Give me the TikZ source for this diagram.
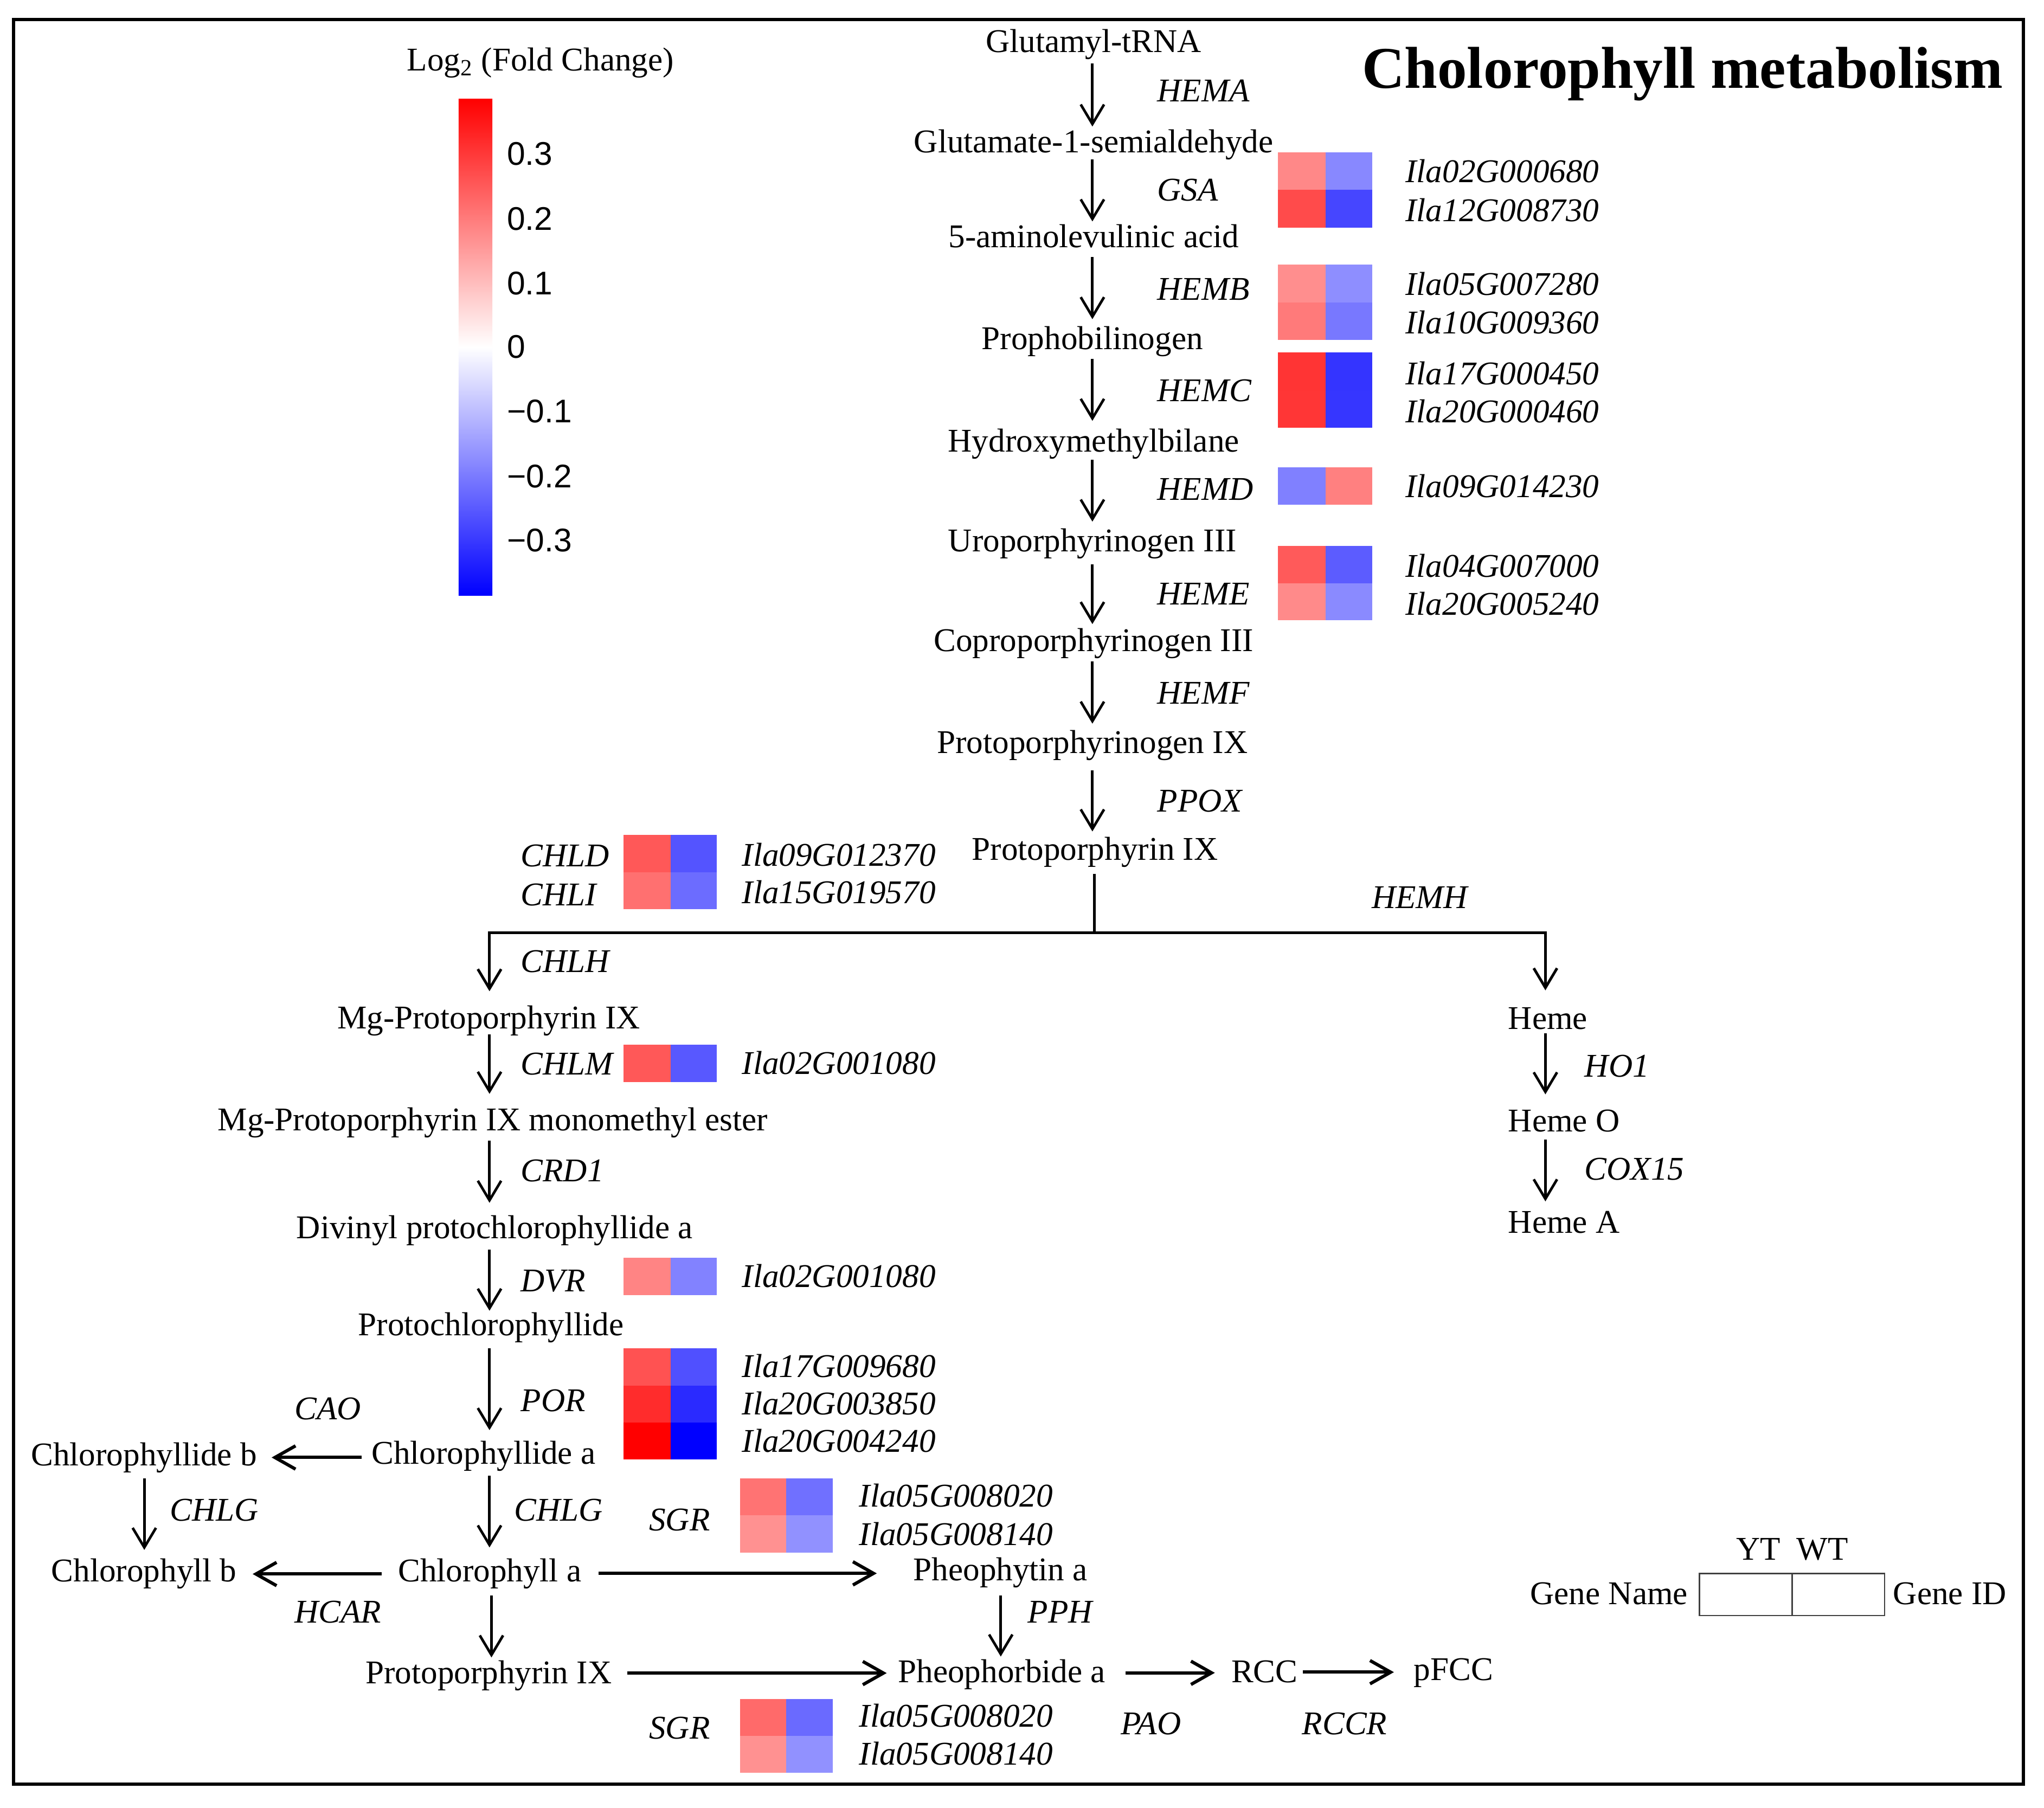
\documentclass[tikz,border=0pt]{standalone}
\usepackage{fontspec}
\setmainfont{Liberation Serif}
\setsansfont{Liberation Sans}
\usetikzlibrary{arrows.meta,calc}
\newcommand{\fsz}{\fontsize{17.4pt}{20pt}\selectfont}
% red cell left, blue cell right
\newcommand{\hmrow}[7]{%
  \fill[fill={rgb,255:red,255;green,#6;blue,#6}] (#1,#4) rectangle (#2,#5);
  \fill[fill={rgb,255:red,#7;green,#7;blue,255}] (#2,#4) rectangle (#3,#5);}
\newcommand{\vconn}[5]{\draw[varr] ($(#1.south -| #3)+(0,#4)$) -- ($(#2.north -| #3)+(0,#5)$);}
\begin{document}
\begin{tikzpicture}[x=0.02404cm,y=-0.02404cm,
  met/.style={inner sep=0pt,text height=12pt,text depth=4pt,font=\fsz,anchor=base},
  enz/.style={inner sep=0pt,font=\fsz\itshape,anchor=base west},
  lbl/.style={inner sep=0pt,font=\fsz,anchor=base west},
  cbl/.style={inner sep=0pt,font=\fontsize{17.2pt}{20pt}\sffamily,anchor=base west},
  varr/.style={line width=1.35pt,-{Straight Barb[length=3.6mm,width=4.3mm]}},
  harr/.style={line width=1.7pt,-{Straight Barb[length=3.8mm,width=4.3mm]}}]
\fill[white] (0,0) rectangle (1568,1387);
\useasboundingbox (0,0) rectangle (1568,1387);
\draw[line width=1.8pt] (10.5,14.9) rectangle (1552.3,1368.7);

% column coordinates
\coordinate (cM) at (838,0);
\coordinate (cL) at (375.5,0);
\coordinate (cL2) at (377,0);
\coordinate (cB) at (110.7,0);
\coordinate (cP) at (767.7,0);
\coordinate (cR) at (1185.5,0);

% title and colour bar
\node[inner sep=0pt,anchor=base west,font=\fontsize{31pt}{36pt}\selectfont\bfseries] (title) at (1044.5,67.6) {Cholorophyll metabolism};
\node[lbl] (logt) at (312,54.3) {Log\textsubscript{2} (Fold Change)};
\shade[top color=red,bottom color=white] (351.8,75.7) rectangle (377.7,266.4);
\shade[top color=white,bottom color=blue] (351.8,266.2) rectangle (377.7,456.8);
\node[cbl] (cb1) at (388.7,126.7) {0.3};
\node[cbl] (cb2) at (388.7,176.4) {0.2};
\node[cbl] (cb3) at (388.7,225.9) {0.1};
\node[cbl] (cb4) at (388.7,274.7) {0};
\node[cbl] (cb5) at (388.7,324.4) {−0.1};
\node[cbl] (cb6) at (388.7,373.9) {−0.2};
\node[cbl] (cb7) at (388.7,423.3) {−0.3};

% main column
\node[met] (trna) at (839,40) {Glutamyl-tRNA};
\node[met] (glu) at (839,117) {Glutamate-1-semialdehyde};
\node[met] (ala) at (839,190) {5-aminolevulinic acid};
\node[met] (prop) at (838,268) {Prophobilinogen};
\node[met] (hyd) at (839,346.5) {Hydroxymethylbilane};
\node[met] (uro) at (838,423) {Uroporphyrinogen III};
\node[met] (copro) at (839,499.6) {Coproporphyrinogen III};
\node[met] (protogen) at (838,578) {Protoporphyrinogen IX};
\node[met] (proto) at (840,659.7) {Protoporphyrin IX};

\vconn{trna}{glu}{cM}{2.4}{-2.1}
\vconn{glu}{ala}{cM}{-1}{-2.3}
\vconn{ala}{prop}{cM}{1}{-5.3}
\vconn{prop}{hyd}{cM}{1}{-5.8}
\vconn{hyd}{uro}{cM}{0}{-5}
\vconn{uro}{copro}{cM}{4}{-3}
\vconn{copro}{protogen}{cM}{1.5}{-5}
\vconn{protogen}{proto}{cM}{7}{-4}

\node[enz] (eHEMA) at (887.6,78) {HEMA};
\node[enz] (eGSA) at (887.6,154) {GSA};
\node[enz] (eHEMB) at (887.6,230) {HEMB};
\node[enz] (eHEMC) at (887.6,308) {HEMC};
\node[enz] (eHEMD) at (887.6,383.6) {HEMD};
\node[enz] (eHEME) at (887.6,464) {HEME};
\node[enz] (eHEMF) at (887.6,540) {HEMF};
\node[enz] (ePPOX) at (887.6,623) {PPOX};
\node[enz] (eHEMH) at (1052,697) {HEMH};

% main heat maps
\hmrow{980.5}{1016.7}{1052.5}{117}{145.6}{136}{136}
\hmrow{980.5}{1016.7}{1052.5}{145.6}{174.5}{75}{70}
\hmrow{980.5}{1016.7}{1052.5}{203}{232}{142}{142}
\hmrow{980.5}{1016.7}{1052.5}{232}{260.8}{122}{120}
\hmrow{980.5}{1016.7}{1052.5}{270.4}{299.4}{52}{52}
\hmrow{980.5}{1016.7}{1052.5}{299.3}{328.3}{54}{54}
\fill[fill={rgb,255:red,128;green,128;blue,255}] (980.5,358.4) rectangle (1016.7,387);
\fill[fill={rgb,255:red,255;green,128;blue,128}] (1016.7,358.4) rectangle (1052.5,387);
\hmrow{980.5}{1016.7}{1052.5}{419}{447.7}{90}{92}
\hmrow{980.5}{1016.7}{1052.5}{447.6}{476}{138}{138}

\node[enz] (g1) at (1078,140) {Ila02G000680};
\node[enz] (g2) at (1078,169.7) {Ila12G008730};
\node[enz] (g3) at (1078,226.5) {Ila05G007280};
\node[enz] (g4) at (1078,256) {Ila10G009360};
\node[enz] (g5) at (1078,295) {Ila17G000450};
\node[enz] (g6) at (1078,324) {Ila20G000460};
\node[enz] (g7) at (1078,381.4) {Ila09G014230};
\node[enz] (g8) at (1078,442.6) {Ila04G007000};
\node[enz] (g9) at (1078,471.7) {Ila20G005240};

% branch
\coordinate (brC) at (839.4,715.7);
\coordinate (brL) at (375.5,715.7);
\coordinate (brR) at (1185.5,715.7);
\draw[line width=1.4pt] ($(proto.south -| brC)+(0,4.4)$) -- (brC);

% left column
\node[met] (mgp) at (375,789.3) {Mg-Protoporphyrin IX};
\node[met] (mgpme) at (378,867.3) {Mg-Protoporphyrin IX monomethyl ester};
\node[met] (div) at (379.4,950.1) {Divinyl protochlorophyllide a};
\node[met] (pchl) at (376.6,1024.4) {Protochlorophyllide};
\node[met] (chlidea) at (371,1123) {Chlorophyllide a};
\node[met] (chlideb) at (110.5,1124.5) {Chlorophyllide b};
\node[met] (chlb) at (110.5,1213.4) {Chlorophyll b};
\node[met] (chla) at (375.7,1213.4) {Chlorophyll a};
\node[met] (proto2) at (374.9,1291.4) {Protoporphyrin IX};
\node[met] (pheophytin) at (767.5,1212.7) {Pheophytin a};
\node[met] (pheophorbide) at (768.5,1290.7) {Pheophorbide a};
\node[met] (rcc) at (970,1290.7) {RCC};
\node[met,anchor=base west] (pfcc) at (1084.3,1289) {pFCC};

% right column
\node[met,anchor=base west] (heme) at (1156.7,789.6) {Heme};
\node[met,anchor=base west] (hemeo) at (1156.7,868) {Heme O};
\node[met,anchor=base west] (hemea) at (1156.7,946) {Heme A};

\draw[varr,line width=1.4pt] (brC) -- (brL) -- ($(mgp.north -| brL)+(0,-11)$);
\draw[varr,line width=1.4pt] (brC) -- (brR) -- ($(heme.north -| brR)+(0,-12)$);

\vconn{mgp}{mgpme}{cL}{-2}{-10.3}
\vconn{mgpme}{div}{cL}{1.5}{-9.5}
\vconn{div}{pchl}{cL}{2.3}{-1}
\vconn{pchl}{chlidea}{cL}{4}{-8}
\vconn{chlidea}{chla}{cL}{3}{-8.4}
\vconn{chla}{proto2}{cL2}{4.5}{-2}
\vconn{chlideb}{chlb}{cB}{3.7}{-6.5}
\vconn{pheophytin}{pheophorbide}{cP}{5}{-2}
\vconn{heme}{hemeo}{cR}{-3}{-10.6}
\vconn{hemeo}{hemea}{cR}{0}{-6.5}

\draw[harr] ($(chlidea.west)+(-7.4,1)$) -- ($(chlideb.east |- chlidea.west)+(11,1)$);
\draw[harr] ($(chla.west)+(-12.3,0)$) -- ($(chlb.east |- chla.west)+(12,0)$);
\draw[harr] ($(chla.east)+(13,-0.5)$) -- ($(pheophytin.west |- chla.east)+(-27.8,-0.5)$);
\draw[harr] ($(proto2.east)+(11.5,-2)$) -- ($(pheophorbide.west |- proto2.east)+(-8.5,-2)$);
\draw[harr] ($(pheophorbide.east)+(15,-1.5)$) -- ($(rcc.west |- pheophorbide.east)+(-12.3,-1.5)$);
\draw[harr] ($(rcc.east)+(3.7,-2)$) -- ($(pfcc.west |- rcc.east)+(-15,-2)$);

% left enzyme labels
\node[enz] (eCHLD) at (399.3,664.8) {CHLD};
\node[enz] (eCHLI) at (399.3,694.6) {CHLI};
\node[enz] (eCHLH) at (399.3,745.8) {CHLH};
\node[enz] (eCHLM) at (399.3,824.6) {CHLM};
\node[enz] (eCRD1) at (399.3,906.3) {CRD1};
\node[enz] (eDVR) at (399.3,991) {DVR};
\node[enz] (ePOR) at (399.3,1082.7) {POR};
\node[enz] (eCAO) at (225.8,1089) {CAO};
\node[enz] (eCHLGb) at (130,1167) {CHLG};
\node[enz] (eCHLGa) at (394.4,1167) {CHLG};
\node[enz] (eSGR) at (497.7,1174.5) {SGR};
\node[enz] (eHCAR) at (225.8,1245) {HCAR};
\node[enz] (ePPH) at (788.2,1245) {PPH};
\node[enz] (eSGR2) at (497.7,1334.1) {SGR};
\node[enz] (ePAO) at (859.5,1330.5) {PAO};
\node[enz] (eRCCR) at (998.7,1330.5) {RCCR};
\node[enz] (eHO1) at (1215.4,826.4) {HO1};
\node[enz] (eCOX15) at (1215.4,905.2) {COX15};

% left heat maps
\hmrow{478.4}{514.4}{549.7}{640.7}{669.4}{88}{84}
\hmrow{478.4}{514.4}{549.7}{669.3}{697.5}{112}{108}
\hmrow{478.4}{514.4}{549.7}{801.5}{830.1}{88}{88}
\hmrow{478.4}{514.4}{549.7}{965}{993.5}{132}{130}
\hmrow{478.4}{514.4}{549.7}{1034.4}{1063.1}{82}{80}
\hmrow{478.4}{514.4}{549.7}{1063}{1091.3}{44}{42}
\hmrow{478.4}{514.4}{549.7}{1091.2}{1119.8}{0}{0}
\hmrow{567.9}{603.2}{638.8}{1134.3}{1162.7}{115}{112}
\hmrow{567.9}{603.2}{638.8}{1162.6}{1191.2}{145}{145}
\hmrow{567.9}{603.2}{638.8}{1303.3}{1331.7}{106}{106}
\hmrow{567.9}{603.2}{638.8}{1331.6}{1360.1}{145}{145}

\node[enz] (h1) at (569,664.3) {Ila09G012370};
\node[enz] (h2) at (569,693) {Ila15G019570};
\node[enz] (h3) at (569,824.2) {Ila02G001080};
\node[enz] (h4) at (569,987.6) {Ila02G001080};
\node[enz] (h5) at (569,1056.7) {Ila17G009680};
\node[enz] (h6) at (569,1085.3) {Ila20G003850};
\node[enz] (h7) at (569,1113.9) {Ila20G004240};
\node[enz] (s1) at (658.9,1155.9) {Ila05G008020};
\node[enz] (s2) at (658.9,1185.6) {Ila05G008140};
\node[enz] (s3) at (658.9,1324.9) {Ila05G008020};
\node[enz] (s4) at (658.9,1353.8) {Ila05G008140};

% legend
\node[lbl,anchor=base] (yt) at (1349,1196.7) {YT};
\node[lbl,anchor=base] (wt) at (1398,1196.7) {WT};
\node[lbl,anchor=base east] (gname) at (1295,1230.9) {Gene Name};
\node[lbl] (gidl) at (1452,1230.9) {Gene ID};
\draw[line width=0.8pt,black!75] (1303.5,1207.1) rectangle (1445.7,1239.4);
\draw[line width=0.8pt,black!75] (1374.8,1207.1) -- (1374.8,1239.4);
\end{tikzpicture}
\end{document}
